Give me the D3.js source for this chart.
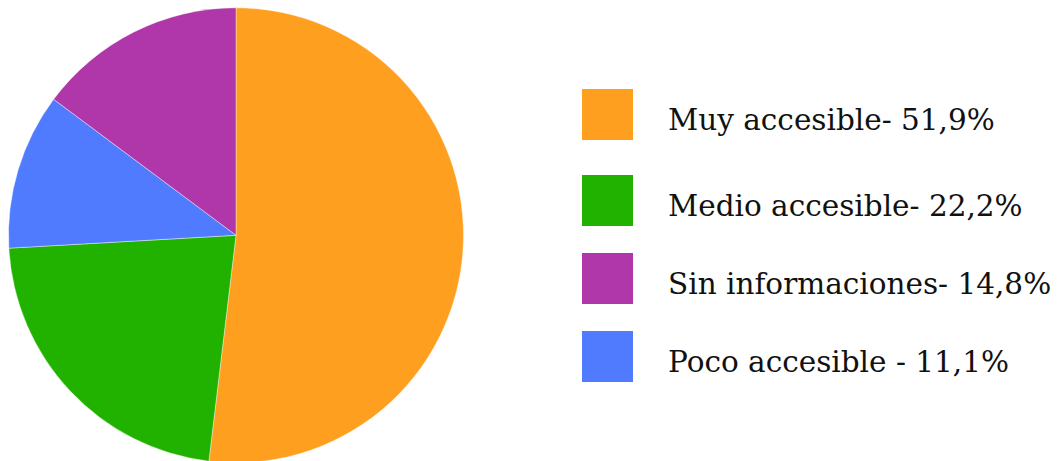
<!DOCTYPE html>
<html>
<head>
<meta charset="utf-8">
<script src="https://cdn.jsdelivr.net/npm/d3@7"></script>
<style>
  html, body { margin: 0; padding: 0; background: #fff; }
  svg { display: block; }
</style>
</head>
<body>
<svg id="chart" width="1059" height="461"></svg>
<script>
// Accessibility categories, in slice order (clockwise from 12 o'clock)
const categories = ["Muy accesible", "Medio accesible", "Poco accesible", "Sin informaciones"];
const shares = [51.9, 22.2, 11.1, 14.8];
const colors = ["#ff9f1f", "#21b200", "#507bff", "#b037a9"];

// Legend entries, in legend order
const legendLabels = [
  "Muy accesible- 51,9%",
  "Medio accesible- 22,2%",
  "Sin informaciones- 14,8%",
  "Poco accesible - 11,1%"
];
const legendKeys = ["Muy accesible", "Medio accesible", "Sin informaciones", "Poco accesible"];

const svg = d3.select("#chart");
const color = d3.scaleOrdinal().domain(categories).range(colors);

const cx = 236, cy = 235.3, radius = 227.5;

const pie = d3.pie().sort(null).value(d => d.value);
const arc = d3.arc().innerRadius(0).outerRadius(radius);

const data = categories.map((c, i) => ({ name: c, value: shares[i] }));

svg.append("g")
  .attr("transform", `translate(${cx},${cy})`)
  .selectAll("path")
  .data(pie(data))
  .join("path")
  .attr("d", arc)
  .attr("fill", d => color(d.data.name))
  .attr("stroke", "#ffffff")
  .attr("stroke-width", 0.4);

// Legend: swatches and labels to the right of the pie
const rowTops = [89, 175, 253, 331];
const legend = svg.append("g");
const rows = legend.selectAll("g")
  .data(legendKeys)
  .join("g")
  .attr("transform", (d, i) => `translate(582,${rowTops[i]})`);

rows.append("rect")
  .attr("width", 51)
  .attr("height", 51)
  .attr("fill", d => color(d));

rows.append("text")
  .attr("x", 86)
  .attr("y", 41)
  .attr("font-family", "DejaVu Serif, serif")
  .attr("font-size", 29.5)
  .attr("fill", "#111")
  .text((d, i) => legendLabels[i]);
</script>
</body>
</html>
